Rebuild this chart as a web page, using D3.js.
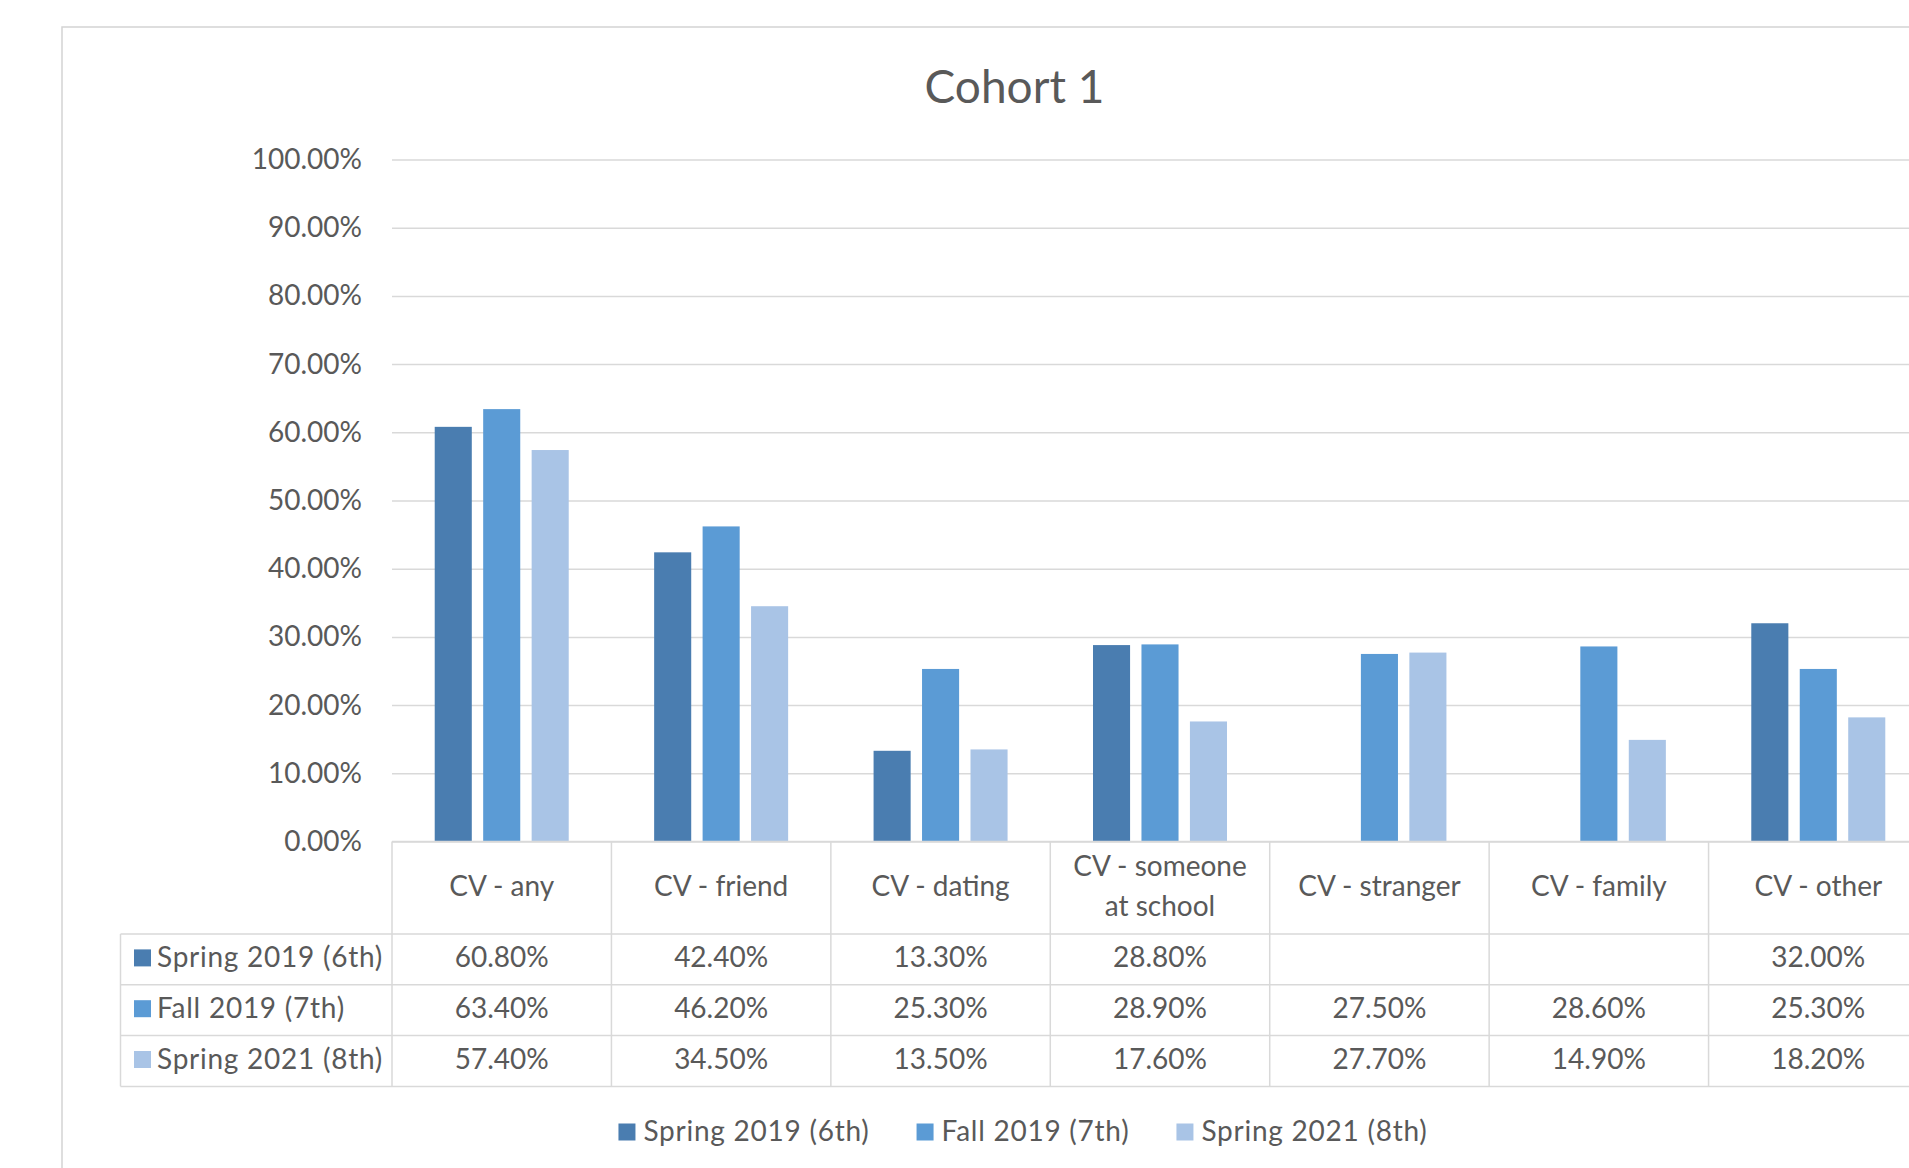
<!DOCTYPE html>
<html>
<head>
<meta charset="utf-8">
<script src="https://cdn.jsdelivr.net/npm/d3@7/dist/d3.min.js"></script>
<style>
  body { margin: 0; background: #fff; overflow: hidden; }
  text { font-family: Lato, "Open Sans", sans-serif; fill: #595959; }
</style>
</head>
<body>
<script>
// =================== Data ======================
const categories = ["CV - any", "CV - friend", "CV - dating", "CV - someone at school",
                    "CV - stranger", "CV - family", "CV - other"];
const seriesNames = ["Spring 2019 (6th)", "Fall 2019 (7th)", "Spring 2021 (8th)"];
const spring2019 = [60.8, 42.4, 13.3, 28.8, null, null, 32.0];
const fall2019   = [63.4, 46.2, 25.3, 28.9, 27.5, 28.6, 25.3];
const spring2021 = [57.4, 34.5, 13.5, 17.6, 27.7, 14.9, 18.2];
const yTicks = [0, 10, 20, 30, 40, 50, 60, 70, 80, 90, 100];
const colors = ["#4a7db0", "#5b9bd5", "#a9c4e6"];

const seriesValues = [spring2019, fall2019, spring2021];

// =================== Layout ======================
const W = 1909, H = 1168;
const chartBox = {left: 62, top: 27, right: 1967, bottom: 1176};
const plot = {left: 392, right: 1928, top: 159.5, bottom: 841.5};
const tableLeft = 120.5, headerH = 92.5, rowH = 50.8;
const gridColor = "#d9d9d9";

const svg = d3.select("body").append("svg")
    .attr("width", W)
    .attr("height", H);

// chart border (runs past the right / bottom edge, as in the screenshot)
svg.append("rect")
    .attr("x", chartBox.left).attr("y", chartBox.top)
    .attr("width", chartBox.right - chartBox.left)
    .attr("height", chartBox.bottom - chartBox.top)
    .attr("fill", "#fff")
    .attr("stroke", "#d4d4d4")
    .attr("stroke-width", 1.5);

// title
svg.append("text")
    .attr("x", (chartBox.left + chartBox.right) / 2)
    .attr("y", 103)
    .attr("text-anchor", "middle")
    .style("font-size", "46px")
    .text("Cohort 1");

// scales
const x0 = d3.scaleBand()
    .domain(categories)
    .range([plot.left, plot.right])
    .padding(0);

const groupW = 134;
const x1 = d3.scaleBand()
    .domain(seriesNames)
    .range([(x0.bandwidth() - groupW) / 2, (x0.bandwidth() + groupW) / 2])
    .paddingInner(0.235)
    .paddingOuter(0);

const y = d3.scaleLinear()
    .domain([0, 100])
    .range([plot.bottom, plot.top]);

// y axis with gridlines
const yAxis = svg.append("g")
    .attr("transform", "translate(" + plot.left + ",0)")
    .call(d3.axisLeft(y)
        .tickValues(yTicks)
        .tickSizeInner(-(plot.right - plot.left))
        .tickSizeOuter(0)
        .tickPadding(30)
        .tickFormat(function(d) { return d3.format(".2f")(d) + "%"; }));
yAxis.select(".domain").remove();
yAxis.selectAll(".tick line")
    .attr("stroke", gridColor)
    .attr("stroke-width", 1.5);
yAxis.selectAll(".tick text")
    .style("font-size", "28px")
    .style("font-family", "Lato, 'Open Sans', sans-serif")
    .attr("fill", "#595959");

// bars
seriesNames.forEach(function(name, si) {
  const rows = categories.map(function(c, i) { return {cat: c, v: seriesValues[si][i]}; })
      .filter(function(d) { return d.v != null; });
  svg.append("g").selectAll("rect")
      .data(rows)
      .enter()
      .append("rect")
      .attr("fill", colors[si])
      .attr("x", function(d) { return x0(d.cat) + x1(name); })
      .attr("width", x1.bandwidth())
      .attr("y", function(d) { return y(d.v); })
      .attr("height", function(d) { return y(0) - y(d.v); });
});

// =================== Data table ======================
const tableBottom = plot.bottom + headerH + rowH * seriesNames.length;
const rowTop = function(i) { return plot.bottom + headerH + rowH * i; };
const table = svg.append("g")
    .attr("stroke", gridColor)
    .attr("stroke-width", 1.5);

// top line of header (axis line)
table.append("line")
    .attr("x1", plot.left).attr("x2", plot.right)
    .attr("y1", plot.bottom).attr("y2", plot.bottom);
// row lines
d3.range(seriesNames.length + 1).forEach(function(i) {
  table.append("line")
      .attr("x1", tableLeft).attr("x2", plot.right)
      .attr("y1", rowTop(i)).attr("y2", rowTop(i));
});
// column lines
table.append("line")
    .attr("x1", tableLeft).attr("x2", tableLeft)
    .attr("y1", rowTop(0)).attr("y2", tableBottom);
categories.concat([null]).forEach(function(c) {
  const xx = c == null ? plot.right : x0(c);
  table.append("line")
      .attr("x1", xx).attr("x2", xx)
      .attr("y1", plot.bottom).attr("y2", tableBottom);
});

// category headers (wrapped)
const headG = svg.append("g");
categories.forEach(function(c) {
  const t = headG.append("text")
      .attr("text-anchor", "middle")
      .style("font-size", "28px")
      .attr("x", x0(c) + x0.bandwidth() / 2);
  // simple word wrap
  const words = c.split(" ");
  let lines = [], cur = [];
  words.forEach(function(w) {
    cur.push(w);
    t.text(cur.join(" "));
    if (t.node().getComputedTextLength() > 185 && cur.length > 1) {
      cur.pop();
      lines.push(cur.join(" "));
      cur = [w];
    }
  });
  lines.push(cur.join(" "));
  t.text(null);
  const lineH = 40;
  const cy = plot.bottom + headerH / 2;
  lines.forEach(function(l, li) {
    t.append("tspan")
        .attr("x", x0(c) + x0.bandwidth() / 2)
        .attr("y", cy + (li - (lines.length - 1) / 2) * lineH)
        .attr("dy", "0.29em")
        .text(l);
  });
});

// row labels with keys
seriesNames.forEach(function(name, si) {
  const cy = rowTop(si) + rowH / 2;
  svg.append("rect")
      .attr("x", 134).attr("y", cy - 10)
      .attr("width", 17).attr("height", 17)
      .attr("fill", colors[si]);
  svg.append("text")
      .attr("x", 157).attr("y", cy)
      .attr("dy", "0.27em")
      .style("font-size", "28px")
      .style("letter-spacing", "0.75px")
      .text(name);
  // values
  svg.append("g").selectAll("text")
      .data(categories.map(function(c, i) { return {cat: c, v: seriesValues[si][i]}; })
                .filter(function(d) { return d.v != null; }))
      .enter()
      .append("text")
      .attr("text-anchor", "middle")
      .attr("x", function(d) { return x0(d.cat) + x0.bandwidth() / 2; })
      .attr("y", cy)
      .attr("dy", "0.27em")
      .style("font-size", "28px")
      .text(function(d) { return d3.format(".2f")(d.v) + "%"; });
});

// =================== Legend ======================
const legend = svg.append("g");
const legendY = 1132, keyS = 17, keyGap = 8, itemGap = 47;
const items = seriesNames.map(function(name, si) {
  const g = legend.append("g");
  g.append("rect")
      .attr("y", legendY - keyS / 2)
      .attr("width", keyS).attr("height", keyS)
      .attr("fill", colors[si]);
  const t = g.append("text")
      .attr("x", keyS + keyGap)
      .attr("y", legendY)
      .attr("dy", "0.33em")
      .style("font-size", "28px")
      .style("letter-spacing", "0.75px")
      .text(name);
  return {g: g, w: keyS + keyGap + t.node().getComputedTextLength()};
});
const totalW = d3.sum(items, function(d) { return d.w; }) + itemGap * (items.length - 1);
let lx = 1023 - totalW / 2;
items.forEach(function(it) {
  it.g.attr("transform", "translate(" + lx + ",0)");
  lx += it.w + itemGap;
});
</script>
</body>
</html>
